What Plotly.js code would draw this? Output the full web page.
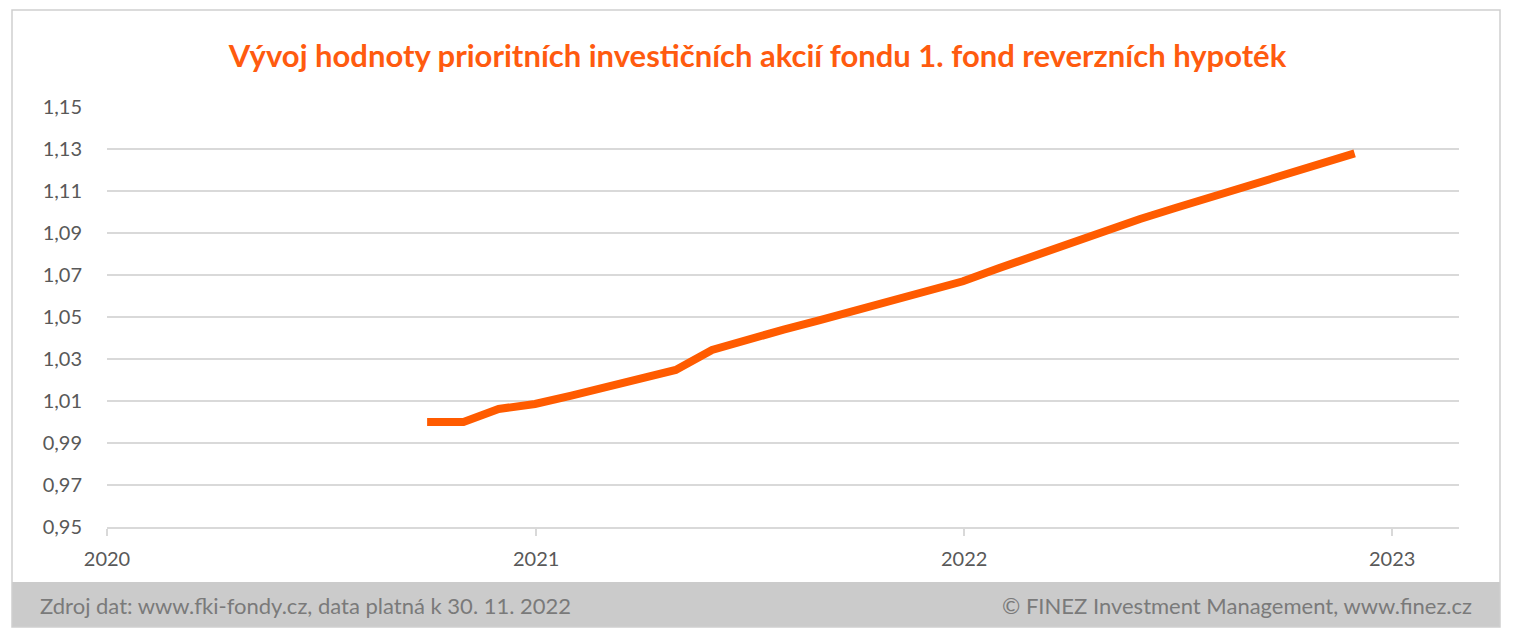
<!DOCTYPE html>
<html>
<head>
<meta charset="utf-8">
<script src="https://cdn.plot.ly/plotly-3.0.1.min.js"></script>
<style>html,body{margin:0;padding:0;background:#fff;} #chart{width:1515px;height:636px;}</style>
</head>
<body>
<div id="chart"></div>
<script>
// Month-end dates and fund values
const dates = [
  '2020-09-30','2020-10-31','2020-11-30','2020-12-31',
  '2021-01-31','2021-02-28','2021-03-31','2021-04-30','2021-05-31','2021-06-30',
  '2021-07-31','2021-08-31','2021-09-30','2021-10-31','2021-11-30','2021-12-31',
  '2022-01-31','2022-02-28','2022-03-31','2022-04-30','2022-05-31','2022-06-30',
  '2022-07-31','2022-08-31','2022-09-30','2022-10-31','2022-11-30'
];
const values = [
  1.0000, 1.0000, 1.0062, 1.0086,
  1.0126, 1.0167, 1.0207, 1.0248, 1.0343, 1.0394,
  1.0440, 1.0485, 1.0529, 1.0574, 1.0619, 1.0670,
  1.0733, 1.0789, 1.0850, 1.0914, 1.0967, 1.1019,
  1.1073, 1.1125, 1.1177, 1.1227, 1.1279
];
const yearTickVals = ['2020-01-01','2021-01-01','2022-01-01','2023-01-01'];
const yearTickText = ['2020','2021','2022','2023'];
const yTickVals = [0.95,0.97,0.99,1.01,1.03,1.05,1.07,1.09,1.11,1.13,1.15];

const titleText = 'Vývoj hodnoty prioritních investičních akcií fondu 1. fond reverzních hypoték';
const sourceText = 'Zdroj dat: www.fki-fondy.cz, data platná k 30. 11. 2022';
const copyrightText = '© FINEZ Investment Management, www.finez.cz';

// pixel -> paper helpers for decoration placement
const W = 1515, H = 636, L = 107, R = 1459, T = 107, B = 527;
const px = x => (x - L) / (R - L);
const py = y => (B - y) / (B - T);

const trace = {
  x: dates, y: values, type: 'scatter', mode: 'lines',
  line: {color: '#FF5B00', width: 8},
  hoverinfo: 'x+y'
};

const layout = {
  width: W, height: H,
  margin: {l: L, r: W - R, t: T, b: H - B},
  paper_bgcolor: '#ffffff', plot_bgcolor: '#ffffff',
  separators: ',.',
  showlegend: false,
  font: {family: 'Lato, "Open Sans", sans-serif', color: '#595959'},
  title: {
    text: '<b>' + titleText + '</b>',
    font: {family: 'Lato, sans-serif', size: 31, color: '#FF5B0F'},
    x: 0.5, xref: 'container', xanchor: 'center',
    y: 1 - 56 / H, yref: 'container', yanchor: 'middle'
  },
  xaxis: {
    type: 'date',
    range: ['2020-01-01', '2023-02-27'],
    tickmode: 'array', tickvals: yearTickVals, ticktext: yearTickText,
    showgrid: false, zeroline: false,
    showline: true, linecolor: '#d9d9d9', linewidth: 1.5,
    ticks: 'outside', ticklen: 7, tickcolor: '#d9d9d9', tickwidth: 1.5,
    tickfont: {size: 20, color: '#595959'},
    ticklabelstandoff: 6,
    fixedrange: true
  },
  yaxis: {
    range: [0.95, 1.15],
    tickmode: 'array', tickvals: yTickVals,
    tickformat: '.2f',
    showgrid: true, gridcolor: '#d9d9d9', gridwidth: 1.5,
    zeroline: false, showline: false, ticks: '',
    tickfont: {size: 20, color: '#595959'},
    ticklabelstandoff: 24,
    fixedrange: true
  },
  shapes: [
    {type: 'rect', xref: 'paper', yref: 'paper',
     x0: px(12), x1: px(1500), y0: py(582), y1: py(627),
     fillcolor: '#cbcbcb', line: {width: 0}, layer: 'below'},
    {type: 'rect', xref: 'paper', yref: 'paper',
     x0: px(12), x1: px(1500), y0: py(627), y1: py(10),
     fillcolor: 'rgba(0,0,0,0)', line: {color: '#cfcfcf', width: 1.5}}
  ],
  annotations: [
    {text: sourceText, xref: 'paper', yref: 'paper', x: px(38), y: py(605),
     xanchor: 'left', yanchor: 'middle', showarrow: false,
     font: {size: 22, color: '#7a7a7a'}},
    {text: copyrightText, xref: 'paper', yref: 'paper', x: px(1474), y: py(605),
     xanchor: 'right', yanchor: 'middle', showarrow: false,
     font: {size: 22, color: '#7a7a7a'}}
  ]
};

Plotly.newPlot('chart', [trace], layout, {displayModeBar: false, staticPlot: true});
</script>
</body>
</html>
